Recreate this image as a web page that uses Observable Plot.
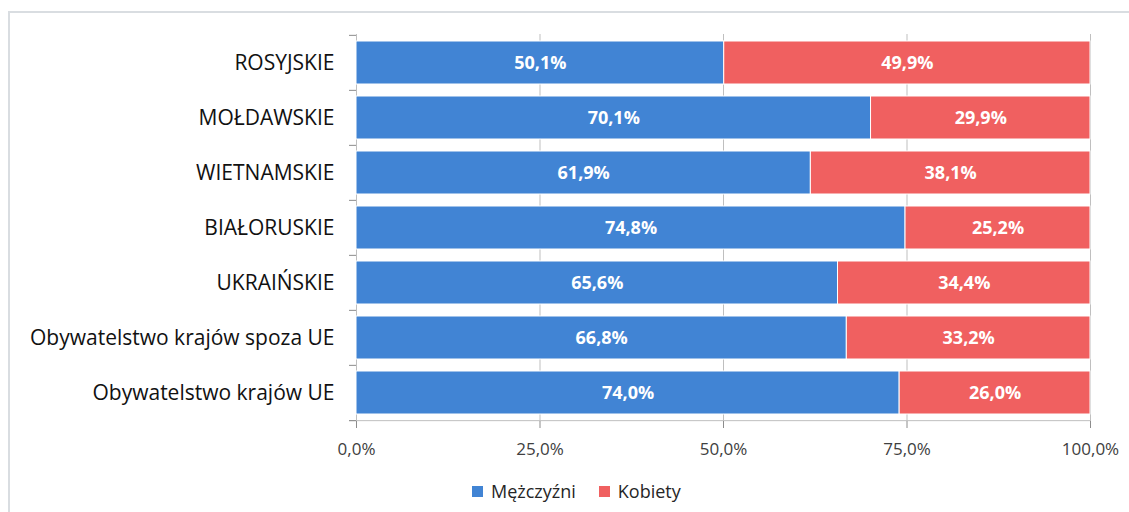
<!DOCTYPE html>
<html>
<head>
<meta charset="utf-8">
<script src="https://cdn.jsdelivr.net/npm/d3@7"></script>
<script src="https://cdn.jsdelivr.net/npm/@observablehq/plot@0.6"></script>
<style>
  html, body { margin: 0; padding: 0; background: #fff; }
  body { width: 1129px; height: 512px; position: relative; overflow: hidden; font-family: "Open Sans", sans-serif; }
  #frame { position: absolute; left: 8px; top: 11px; width: 1140px; height: 520px; border-top: 2px solid #d9dde1; border-left: 2px solid #d9dde1; }
  #chart { position: absolute; left: 0; top: 0; }
  #legend { position: absolute; top: 479px; left: 472px; display: flex; align-items: center; font-size: 18px; color: #262626; }
  #legend .item { display: flex; align-items: center; margin-right: 23px; }
  #legend .sw { width: 11px; height: 11px; margin-right: 8px; }
</style>
</head>
<body>
<div id="frame"></div>
<div id="chart"></div>
<div id="legend"></div>
<script>
const categories = ["ROSYJSKIE", "MOŁDAWSKIE", "WIETNAMSKIE", "BIAŁORUSKIE", "UKRAIŃSKIE", "Obywatelstwo krajów spoza UE", "Obywatelstwo krajów UE"];
const series = ["Mężczyźni", "Kobiety"];
const men = [50.1, 70.1, 61.9, 74.8, 65.6, 66.8, 74.0];
const women = [49.9, 29.9, 38.1, 25.2, 34.4, 33.2, 26.0];
const colors = ["#4184d4", "#f06060"];
const xTicks = [0, 25, 50, 75, 100];

const fmt = v => v.toFixed(1).replace(".", ",") + "%";
const data = categories.flatMap((c, i) => [
  {cat: c, sex: series[0], v: men[i]},
  {cat: c, sex: series[1], v: women[i]}
]);

const W = 1129, H = 465, mT = 34, mB = 44, mL = 356, mR = 39;
const step = (H - mT - mB) / categories.length;
const pxToPct = 100 / (W - mL - mR);
const gridColor = "#bfbfbf";

const chart = Plot.plot({
  width: W, height: H,
  marginTop: mT, marginBottom: mB, marginLeft: mL, marginRight: mR,
  style: {background: "transparent", fontFamily: "Open Sans, sans-serif"},
  x: {domain: [0, 100]},
  y: {domain: categories, paddingInner: 0.21, paddingOuter: 0.105, label: null},
  color: {domain: series, range: colors},
  marks: [
    Plot.ruleX(xTicks, {stroke: gridColor, strokeWidth: 1}),
    Plot.barX(data, Plot.stackX({y: "cat", x: "v", z: "sex", fill: "sex", stroke: "white", strokeWidth: 1})),
    Plot.text(data, Plot.stackX({y: "cat", x: "v", z: "sex", text: d => fmt(d.v), fill: "white", fontWeight: "bold", fontSize: 18})),
    Plot.ruleY(categories, {x1: -7 * pxToPct, x2: 0, dy: -step / 2, stroke: "#8c8c8c"}),
    Plot.ruleY([categories[categories.length - 1]], {x1: -7 * pxToPct, x2: 100, dy: step / 2, stroke: gridColor}),
    Plot.ruleY([categories[categories.length - 1]], {x1: -7 * pxToPct, x2: 0, dy: step / 2, stroke: "#8c8c8c"}),
    Plot.axisY({tickSize: 0, tickPadding: 22, fontSize: 21, fill: "#111", label: null}),
    Plot.axisX({ticks: xTicks, tickFormat: fmt, tickSize: 7, tickPadding: 14, fontSize: 17, stroke: "#8c8c8c", fill: "#404040", label: null})
  ]
});
document.getElementById("chart").appendChild(chart);

const legend = document.getElementById("legend");
series.forEach((s, i) => {
  const item = document.createElement("div");
  item.className = "item";
  const sw = document.createElement("div");
  sw.className = "sw";
  sw.style.background = colors[i];
  const t = document.createElement("span");
  t.textContent = s;
  item.appendChild(sw); item.appendChild(t);
  legend.appendChild(item);
});
</script>
</body>
</html>
